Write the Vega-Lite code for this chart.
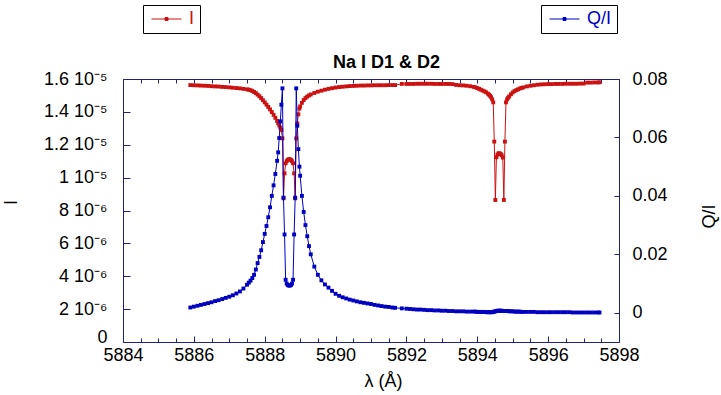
{
  "$schema": "https://vega.github.io/schema/vega-lite/v6.json",
  "width": 496,
  "height": 263,
  "autosize": "none",
  "padding": {"left": 123, "top": 79, "right": 102, "bottom": 53},
  "background": "white",
  "config": {
    "font": "Liberation Sans",
    "view": {"stroke": null},
    "axis": {"grid": false, "domainColor": "#202080", "tickColor": "#202080", "labelColor": "black", "labelFontSize": 18, "titleFontSize": 18, "titleFontWeight": "normal", "labelFont": "Liberation Sans", "titleFont": "Liberation Sans", "titleColor": "black", "labelOverlap": false, "labelFlush": false},
    "legend": {"labelFont": "Liberation Sans", "labelFontSize": 18}
  },
  "data": {"values": [
    {"l":5885.9,"i":1.563e-5,"q":0.0018},
    {"l":5886.0,"i":1.562e-5,"q":0.0021},
    {"l":5886.1,"i":1.561e-5,"q":0.0024},
    {"l":5886.2,"i":1.560e-5,"q":0.0027},
    {"l":5886.3,"i":1.559e-5,"q":0.0030},
    {"l":5886.4,"i":1.558e-5,"q":0.0033},
    {"l":5886.5,"i":1.556e-5,"q":0.0036},
    {"l":5886.6,"i":1.555e-5,"q":0.0040},
    {"l":5886.7,"i":1.554e-5,"q":0.0043},
    {"l":5886.8,"i":1.552e-5,"q":0.0047},
    {"l":5886.9,"i":1.551e-5,"q":0.0051},
    {"l":5887.0,"i":1.549e-5,"q":0.0055},
    {"l":5887.1,"i":1.547e-5,"q":0.0060},
    {"l":5887.2,"i":1.545e-5,"q":0.0066},
    {"l":5887.3,"i":1.543e-5,"q":0.0073},
    {"l":5887.4,"i":1.540e-5,"q":0.0083},
    {"l":5887.5,"i":1.537e-5,"q":0.0096},
    {"l":5887.55,"i":1.535e-5,"q":0.0103},
    {"l":5887.6,"i":1.532e-5,"q":0.0110},
    {"l":5887.65,"i":1.527e-5,"q":0.0119},
    {"l":5887.7,"i":1.521e-5,"q":0.0130},
    {"l":5887.75,"i":1.514e-5,"q":0.0148},
    {"l":5887.8,"i":1.505e-5,"q":0.0170},
    {"l":5887.85,"i":1.495e-5,"q":0.0191},
    {"l":5887.9,"i":1.484e-5,"q":0.0214},
    {"l":5887.95,"i":1.471e-5,"q":0.0242},
    {"l":5888.0,"i":1.458e-5,"q":0.0270},
    {"l":5888.05,"i":1.444e-5,"q":0.0297},
    {"l":5888.1,"i":1.430e-5,"q":0.0327},
    {"l":5888.15,"i":1.415e-5,"q":0.0361},
    {"l":5888.2,"i":1.399e-5,"q":0.0400},
    {"l":5888.25,"i":1.382e-5,"q":0.0436},
    {"l":5888.3,"i":1.364e-5,"q":0.0475},
    {"l":5888.35,"i":1.345e-5,"q":0.0520},
    {"l":5888.38,"i":1.331e-5,"q":0.0549},
    {"l":5888.41,"i":1.317e-5,"q":0.0598},
    {"l":5888.44,"i":1.304e-5,"q":0.0655},
    {"l":5888.47,"i":1.290e-5,"q":0.0712},
    {"l":5888.5,"i":1.239e-5,"q":0.0768},
    {"l":5888.53,"i":8.74e-6,"q":0.0394},
    {"l":5888.56,"i":1.026e-5,"q":0.0268},
    {"l":5888.59,"i":1.087e-5,"q":0.0113},
    {"l":5888.62,"i":1.100e-5,"q":0.0100},
    {"l":5888.65,"i":1.108e-5,"q":0.0095},
    {"l":5888.68,"i":1.112e-5,"q":0.0093},
    {"l":5888.71,"i":1.112e-5,"q":0.0093},
    {"l":5888.74,"i":1.108e-5,"q":0.0095},
    {"l":5888.77,"i":1.100e-5,"q":0.0100},
    {"l":5888.8,"i":1.087e-5,"q":0.0113},
    {"l":5888.83,"i":1.026e-5,"q":0.0268},
    {"l":5888.86,"i":8.74e-6,"q":0.0394},
    {"l":5888.89,"i":1.239e-5,"q":0.0768},
    {"l":5888.92,"i":1.330e-5,"q":0.0640},
    {"l":5888.95,"i":1.385e-5,"q":0.0560},
    {"l":5888.98,"i":1.420e-5,"q":0.0500},
    {"l":5889.0,"i":1.433e-5,"q":0.0469},
    {"l":5889.05,"i":1.455e-5,"q":0.0400},
    {"l":5889.1,"i":1.472e-5,"q":0.0345},
    {"l":5889.15,"i":1.484e-5,"q":0.0300},
    {"l":5889.2,"i":1.493e-5,"q":0.0262},
    {"l":5889.25,"i":1.500e-5,"q":0.0228},
    {"l":5889.3,"i":1.506e-5,"q":0.0200},
    {"l":5889.4,"i":1.515e-5,"q":0.0158},
    {"l":5889.5,"i":1.523e-5,"q":0.0130},
    {"l":5889.6,"i":1.529e-5,"q":0.0111},
    {"l":5889.7,"i":1.535e-5,"q":0.0097},
    {"l":5889.8,"i":1.540e-5,"q":0.0086},
    {"l":5889.9,"i":1.544e-5,"q":0.0075},
    {"l":5890.0,"i":1.548e-5,"q":0.0065},
    {"l":5890.1,"i":1.551e-5,"q":0.0058},
    {"l":5890.2,"i":1.553e-5,"q":0.0053},
    {"l":5890.3,"i":1.555e-5,"q":0.0049},
    {"l":5890.4,"i":1.557e-5,"q":0.0045},
    {"l":5890.5,"i":1.558e-5,"q":0.0042},
    {"l":5890.6,"i":1.559e-5,"q":0.0039},
    {"l":5890.7,"i":1.560e-5,"q":0.0036},
    {"l":5890.8,"i":1.560e-5,"q":0.0034},
    {"l":5890.9,"i":1.561e-5,"q":0.0032},
    {"l":5891.0,"i":1.561e-5,"q":0.0030},
    {"l":5891.1,"i":1.562e-5,"q":0.0027},
    {"l":5891.2,"i":1.562e-5,"q":0.0025},
    {"l":5891.3,"i":1.562e-5,"q":0.0023},
    {"l":5891.4,"i":1.562e-5,"q":0.0021},
    {"l":5891.5,"i":1.563e-5,"q":0.0020},
    {"l":5891.6,"i":1.563e-5,"q":0.0018},
    {"l":5891.68,"i":1.563e-5,"q":0.0017},
    {"l":5891.87,"i":1.570e-5,"q":0.0015},
    {"l":5892.0,"i":1.570e-5,"q":0.0014},
    {"l":5892.1,"i":1.570e-5,"q":0.0013},
    {"l":5892.2,"i":1.570e-5,"q":0.0012},
    {"l":5892.3,"i":1.571e-5,"q":0.0011},
    {"l":5892.4,"i":1.571e-5,"q":0.0011},
    {"l":5892.5,"i":1.571e-5,"q":0.0010},
    {"l":5892.6,"i":1.571e-5,"q":0.0009},
    {"l":5892.7,"i":1.571e-5,"q":0.0009},
    {"l":5892.8,"i":1.570e-5,"q":0.0008},
    {"l":5892.9,"i":1.570e-5,"q":0.0008},
    {"l":5893.0,"i":1.570e-5,"q":0.0007},
    {"l":5893.1,"i":1.570e-5,"q":0.0007},
    {"l":5893.2,"i":1.570e-5,"q":0.0006},
    {"l":5893.3,"i":1.569e-5,"q":0.0006},
    {"l":5893.4,"i":1.564e-5,"q":0.0005},
    {"l":5893.5,"i":1.562e-5,"q":0.0005},
    {"l":5893.6,"i":1.561e-5,"q":0.0005},
    {"l":5893.7,"i":1.559e-5,"q":0.0004},
    {"l":5893.8,"i":1.556e-5,"q":0.0004},
    {"l":5893.9,"i":1.552e-5,"q":0.0004},
    {"l":5893.95,"i":1.549e-5,"q":0.0004},
    {"l":5894.0,"i":1.545e-5,"q":0.0003},
    {"l":5894.05,"i":1.540e-5,"q":0.0003},
    {"l":5894.1,"i":1.535e-5,"q":0.0003},
    {"l":5894.15,"i":1.530e-5,"q":0.0003},
    {"l":5894.2,"i":1.525e-5,"q":0.0003},
    {"l":5894.25,"i":1.519e-5,"q":0.0002},
    {"l":5894.3,"i":1.511e-5,"q":0.0002},
    {"l":5894.33,"i":1.505e-5,"q":0.0002},
    {"l":5894.36,"i":1.498e-5,"q":0.0002},
    {"l":5894.39,"i":1.489e-5,"q":0.0002},
    {"l":5894.42,"i":1.476e-5,"q":0.0002},
    {"l":5894.45,"i":1.458e-5,"q":0.0003},
    {"l":5894.48,"i":1.219e-5,"q":0.0004},
    {"l":5894.51,"i":8.64e-6,"q":0.0005},
    {"l":5894.54,"i":1.124e-5,"q":0.0006},
    {"l":5894.57,"i":1.140e-5,"q":0.0007},
    {"l":5894.6,"i":1.148e-5,"q":0.0007},
    {"l":5894.63,"i":1.148e-5,"q":0.0007},
    {"l":5894.66,"i":1.144e-5,"q":0.0007},
    {"l":5894.69,"i":1.136e-5,"q":0.0007},
    {"l":5894.72,"i":1.122e-5,"q":0.0006},
    {"l":5894.75,"i":8.64e-6,"q":0.0006},
    {"l":5894.78,"i":1.219e-5,"q":0.0006},
    {"l":5894.81,"i":1.458e-5,"q":0.0006},
    {"l":5894.84,"i":1.476e-5,"q":0.0006},
    {"l":5894.87,"i":1.486e-5,"q":0.0006},
    {"l":5894.9,"i":1.494e-5,"q":0.0005},
    {"l":5894.95,"i":1.507e-5,"q":0.0005},
    {"l":5895.0,"i":1.518e-5,"q":0.0005},
    {"l":5895.05,"i":1.526e-5,"q":0.0004},
    {"l":5895.1,"i":1.532e-5,"q":0.0004},
    {"l":5895.15,"i":1.537e-5,"q":0.0004},
    {"l":5895.2,"i":1.542e-5,"q":0.0004},
    {"l":5895.25,"i":1.546e-5,"q":0.0003},
    {"l":5895.3,"i":1.549e-5,"q":0.0003},
    {"l":5895.4,"i":1.555e-5,"q":0.0003},
    {"l":5895.5,"i":1.559e-5,"q":0.0003},
    {"l":5895.6,"i":1.562e-5,"q":0.0003},
    {"l":5895.7,"i":1.565e-5,"q":0.0002},
    {"l":5895.8,"i":1.567e-5,"q":0.0002},
    {"l":5895.9,"i":1.568e-5,"q":0.0002},
    {"l":5896.0,"i":1.569e-5,"q":0.0002},
    {"l":5896.1,"i":1.569e-5,"q":0.0002},
    {"l":5896.2,"i":1.570e-5,"q":0.0002},
    {"l":5896.3,"i":1.570e-5,"q":0.0002},
    {"l":5896.4,"i":1.570e-5,"q":0.0002},
    {"l":5896.5,"i":1.571e-5,"q":0.0002},
    {"l":5896.6,"i":1.571e-5,"q":0.0002},
    {"l":5896.7,"i":1.571e-5,"q":0.0001},
    {"l":5896.8,"i":1.571e-5,"q":0.0001},
    {"l":5896.9,"i":1.572e-5,"q":0.0001},
    {"l":5897.0,"i":1.572e-5,"q":0.0001},
    {"l":5897.1,"i":1.578e-5,"q":0.0001},
    {"l":5897.2,"i":1.578e-5,"q":0.0001},
    {"l":5897.3,"i":1.579e-5,"q":0.0001},
    {"l":5897.4,"i":1.579e-5,"q":0.0001},
    {"l":5897.45,"i":1.580e-5,"q":0.0001}
  ]},
  "layer": [
    {
      "encoding": {
        "x": {"field": "l", "type": "quantitative", "scale": {"domain": [5884, 5898], "nice": false, "zero": false},
          "axis": {"orient": "bottom", "values": [5884,5884.5,5885,5885.5,5886,5886.5,5887,5887.5,5888,5888.5,5889,5889.5,5890,5890.5,5891,5891.5,5892,5892.5,5893,5893.5,5894,5894.5,5895,5895.5,5896,5896.5,5897,5897.5,5898],
            "labelExpr": "datum.value % 2 === 0 ? format(datum.value, 'd') : ''",
            "tickSize": {"condition": {"test": "datum.value % 2 === 0", "value": -6}, "value": -4},
            "labelPadding": 10,
            "title": "λ (Å)", "titleX": 260, "titleY": 44, "titleBaseline": "alphabetic", "titleAnchor": "middle", "titleAlign": "center"}},
        "y": {"field": "i", "type": "quantitative", "scale": {"domain": [0, 1.6e-5], "nice": false},
          "axis": {"orient": "left", "values": [0, 2e-6, 4e-6, 6e-6, 8e-6, 1e-5, 1.2e-5, 1.4e-5, 1.6e-5],
            "labelExpr": "datum.value === 0 ? '0' : (datum.value >= 9.9e-6 ? format(datum.value * 1e5, '.2~r') + ' 10⁻⁵' : format(datum.value * 1e6, '.2~r') + ' 10⁻⁶')",
            "labelBaseline": {"condition": {"test": "datum.value === 0", "value": "alphabetic"}, "value": "middle"},
            "tickSize": -7, "labelPadding": 23,
            "title": "I", "titleAngle": -90, "titleX": -107, "titleY": 123, "titleBaseline": "alphabetic", "titleAlign": "center"}}
      },
      "layer": [
        {"mark": {"type": "line", "strokeWidth": 1},
         "encoding": {"color": {"datum": "I", "scale": {"range": ["#cc1111"]},
           "legend": {"orient": "none", "legendX": 20, "legendY": -74, "title": null, "strokeColor": "black", "padding": 5,
             "symbolType": "M-1,0L3,0M0.8,-0.2L1.2,-0.2L1.2,0.2L0.8,0.2Z", "symbolSize": 225, "symbolStrokeWidth": 1, "symbolStrokeColor": "#cc1111", "symbolFillColor": "#cc1111", "symbolOffset": 2,
             "labelOffset": 21, "labelColor": "#cc1111", "labelFontSize": 18}}}},
        {"mark": {"type": "point", "shape": "square", "filled": true, "size": 15, "color": "#cc1111", "opacity": 1}}
      ]
    },
    {
      "encoding": {
        "x": {"field": "l", "type": "quantitative", "scale": {"domain": [5884, 5898], "nice": false, "zero": false},
          "axis": {"orient": "top", "values": [5884,5884.5,5885,5885.5,5886,5886.5,5887,5887.5,5888,5888.5,5889,5889.5,5890,5890.5,5891,5891.5,5892,5892.5,5893,5893.5,5894,5894.5,5895,5895.5,5896,5896.5,5897,5897.5,5898],
            "labels": false, "tickSize": -4,
            "title": "Na I D1 & D2", "titleFontWeight": "bold", "titleFontSize": 18, "titleX": 263, "titleY": -12, "titleBaseline": "alphabetic", "titleAlign": "center", "titleAngle": 0}},
        "y": {"field": "q", "type": "quantitative", "scale": {"domain": [-0.01, 0.08], "nice": false, "zero": false},
          "axis": {"orient": "right", "values": [0, 0.02, 0.04, 0.06, 0.08],
            "labelExpr": "datum.value === 0 ? '0' : format(datum.value, '.2f')",
            "tickSize": -5, "labelPadding": 18,
            "title": "Q/I", "titleAngle": -90, "titleX": 95, "titleY": 137, "titleBaseline": "alphabetic", "titleAlign": "center"}}
      },
      "layer": [
        {"mark": {"type": "line", "strokeWidth": 1},
         "encoding": {"color": {"datum": "Q/I", "scale": {"range": ["#0000c0"]},
           "legend": {"orient": "none", "legendX": 418, "legendY": -74, "title": null, "strokeColor": "black", "padding": 5,
             "symbolType": "M-1,0L3,0M0.8,-0.2L1.2,-0.2L1.2,0.2L0.8,0.2Z", "symbolSize": 225, "symbolStrokeWidth": 1, "symbolStrokeColor": "#0000c0", "symbolFillColor": "#0000c0", "symbolOffset": 2,
             "labelOffset": 21, "labelColor": "#0000c0", "labelFontSize": 18}}}},
        {"mark": {"type": "point", "shape": "square", "filled": true, "size": 15, "color": "#0000c0", "opacity": 1}}
      ]
    }
  ],
  "resolve": {"scale": {"y": "independent", "color": "independent"}, "axis": {"x": "independent"}}
}
